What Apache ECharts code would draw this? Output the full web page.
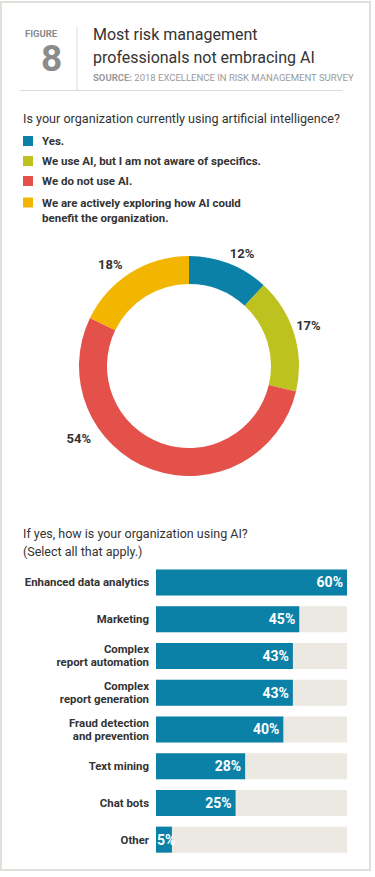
<!DOCTYPE html>
<html>
<head>
<meta charset="utf-8">
<script src="https://cdn.jsdelivr.net/npm/echarts@6/dist/echarts.min.js"></script>
<style>
html,body{margin:0;padding:0;background:#fff;}
#c{width:375px;height:877px;}
</style>
</head>
<body>
<div id="c"></div>
<script>
// ---- data ----
var pieCategories = ['Yes.', 'We use AI, but I am not aware of specifics.', 'We do not use AI.', 'We are actively exploring how AI could benefit the organization.'];
var pieValues = [12, 17, 54, 18];
var pieColors = ['#0b81a8', '#bec21f', '#e4504a', '#f2b600'];

var barCategories = ['Enhanced data analytics', 'Marketing', 'Complex\nreport automation', 'Complex\nreport generation', 'Fraud detection\nand prevention', 'Text mining', 'Chat bots', 'Other'];
var barValues = [60, 45, 43, 43, 40, 28, 25, 5];

var FONT = 'Roboto, "Noto Sans", sans-serif';
var chart = echarts.init(document.getElementById('c'), null, {renderer: 'svg'});

var option = {
  backgroundColor: '#ffffff',
  animation: false,
  textStyle: {fontFamily: FONT},
  graphic: [
    {type: 'rect', shape: {x: 1, y: 2, width: 369, height: 868}, style: {fill: 'none', stroke: '#e2dfda', lineWidth: 2}},
    {type: 'line', shape: {x1: 77, y1: 27, x2: 77, y2: 90}, style: {stroke: '#dddad5', lineWidth: 1}},
    {type: 'line', shape: {x1: 20, y1: 90.5, x2: 343, y2: 90.5}, style: {stroke: '#dddad5', lineWidth: 1}},
    {type: 'text', left: 25, top: 28, style: {text: 'FIGURE', fill: '#8b8b8b', font: 'bold 9.5px ' + FONT, lineHeight: 10}},
    {type: 'text', left: 41, top: 40, style: {text: '8', fill: '#8b8b8b', font: 'bold 37px ' + FONT, lineHeight: 27}},
    {type: 'text', left: 93, top: 23, style: {text: 'Most risk management\nprofessionals not embracing AI', fill: '#333333', font: '16px ' + FONT, lineHeight: 23}},
    {type: 'text', left: 93, top: 72, style: {text: '{b|SOURCE:} 2018 EXCELLENCE IN RISK MANAGEMENT SURVEY', fill: '#9a9a9a', font: '9.5px ' + FONT, rich: {b: {fontWeight: 'bold', fontSize: 9.5, fill: '#9a9a9a', fontFamily: FONT}}}},
    {type: 'text', left: 23, top: 112, style: {text: 'Is your organization currently using artificial intelligence?', fill: '#333333', font: '12.6px ' + FONT}},
    {type: 'text', left: 23, top: 524, style: {text: 'If yes, how is your organization using AI?\n(Select all that apply.)', fill: '#333333', font: '12.5px ' + FONT, lineHeight: 18}}
  ],
  legend: [
    {
      data: pieCategories.slice(0, 3),
      orient: 'vertical', left: 23, top: 134, padding: 0,
      itemWidth: 10, itemHeight: 10, itemGap: 6, icon: 'rect',
      selectedMode: false,
      textStyle: {fontSize: 11.5, fontWeight: 'bold', color: '#333333', lineHeight: 14, padding: [0, 0, 0, 4]}
    },
    {
      data: [{name: pieCategories[3]}],
      orient: 'vertical', left: 23, top: 180, padding: 0,
      itemWidth: 10, itemHeight: 10, icon: 'rect',
      selectedMode: false,
      formatter: function (n) { return ' \nWe are actively exploring how AI could\nbenefit the organization.'; },
      textStyle: {fontSize: 11.5, fontWeight: 'bold', color: '#333333', lineHeight: 15, padding: [0, 0, 0, 4]}
    }
  ],
  grid: {left: 156, right: 28, top: 564, height: 294, containLabel: false},
  xAxis: {type: 'value', min: 0, max: 60, show: false},
  yAxis: {
    type: 'category', data: barCategories, inverse: true,
    axisLine: {show: false}, axisTick: {show: false},
    axisLabel: {margin: 7, fontSize: 11.4, fontWeight: 'bold', color: '#333333', lineHeight: 13, fontFamily: FONT}
  },
  series: [
    {
      type: 'pie',
      center: [189, 366], radius: [82, 110],
      startAngle: 90, clockwise: true,
      silent: true,
      data: pieCategories.map(function (n, i) { return {name: n, value: pieValues[i], itemStyle: {color: pieColors[i]}}; }),
      label: {show: true, position: 'outside', formatter: '{c}%', fontSize: 13, fontWeight: 'bold', color: '#333333', fontFamily: FONT},
      labelLine: {show: false, length: 2, length2: 0},
      labelLayout: function (p) {
        if (p.dataIndex === 2) { return {x: 91, y: 438, align: 'right', verticalAlign: 'middle'}; }
        if (p.dataIndex === 3) { return {dx: -2, dy: -7}; }
        return {dx: -5, dy: -8};
      }
    },
    {
      type: 'bar',
      data: barValues.map(function (v) {
        return v < 10 ? {value: v, label: {position: 'insideLeft', distance: 1}} : v;
      }),
      barWidth: 26,
      itemStyle: {color: '#0b81a8'},
      showBackground: true,
      backgroundStyle: {color: '#ece9e3'},
      silent: true,
      label: {show: true, position: 'insideRight', distance: 4, formatter: '{c}%', color: '#ffffff', fontSize: 14, fontWeight: 'bold', fontFamily: FONT}
    }
  ]
};
chart.setOption(option);
</script>
</body>
</html>
